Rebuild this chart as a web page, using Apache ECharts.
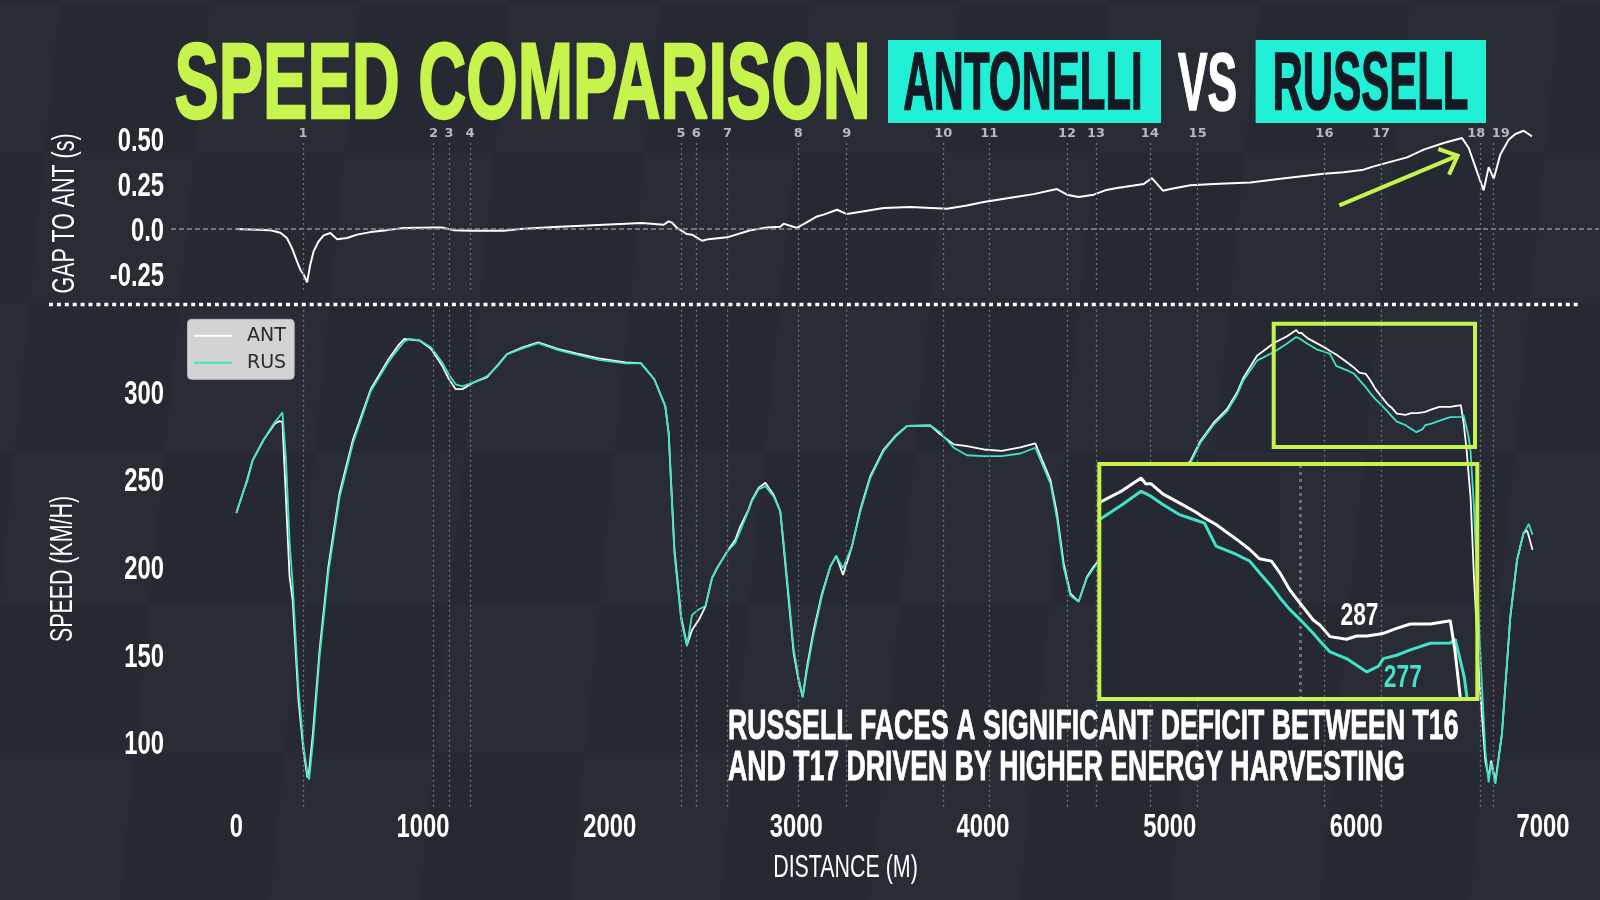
<!DOCTYPE html>
<html>
<head>
<meta charset="utf-8">
<title>Speed comparison</title>
<script src="https://cdn.jsdelivr.net/npm/echarts@6/dist/echarts.min.js"></script>
<style>
  html, body { margin: 0; padding: 0; background: #262832; }
  #chart { width: 1600px; height: 900px; }
</style>
</head>
<body>
<div id="chart"></div>
<script>
// distance along the lap (m) and speed of both drivers (km/h)
const dist = [0, 40, 58, 87, 147, 206, 230, 247, 266, 285, 302, 333, 360, 381, 390, 410, 446, 493, 553, 625,
  720, 816, 870, 900, 930, 984, 1044, 1103, 1139, 1175, 1211, 1271, 1342, 1400, 1450, 1534, 1617, 1725, 1821, 1940,
  2084, 2167, 2239, 2298, 2316, 2347, 2383, 2414, 2441, 2477, 2513, 2548, 2575, 2629, 2673, 2700, 2744, 2763, 2798, 2834,
  2878, 2914, 2932, 2959, 2986, 3012, 3034, 3057, 3093, 3138, 3182, 3214, 3250, 3298, 3343, 3396, 3468, 3530, 3593, 3718,
  3771, 3843, 3914, 4004, 4100, 4200, 4280, 4361, 4396, 4432, 4468, 4512, 4557, 4593, 4700, 4800, 4900, 5000, 5111, 5164,
  5236, 5307, 5361, 5396, 5468, 5561, 5625, 5678, 5692, 5706, 5740, 5787, 5835, 5859, 5892, 5950, 5988, 6016, 6050, 6074,
  6102, 6131, 6169, 6188, 6217, 6264, 6293, 6322, 6355, 6369, 6407, 6446, 6503, 6560, 6574, 6590, 6600, 6612, 6630, 6660,
  6691, 6709, 6722, 6745, 6780, 6825, 6861, 6896, 6915, 6923, 6944];
const antSpeed = [231, 244, 250, 261, 273, 282, 283.5, 283, 238.7, 195, 181, 124, 95, 80, 84, 105, 152.7, 200.5, 242.5, 273,
  301.7, 318.9, 327, 330.4, 330, 329.4, 324.6, 315, 307.4, 301.7, 301.7, 305.6, 308.4, 315.5, 321.8, 325.6, 328.5, 324.6, 322.2, 319.3,
  317, 316.6, 307.4, 292.1, 276.9, 210, 171.8, 155.6, 164.2, 169.9, 177.6, 193.8, 199.5, 209, 215.8, 223.4, 233, 238.7, 245.4, 248.3,
  241.5, 232, 212, 181.4, 150.8, 135.5, 126, 143.2, 164.2, 185.2, 200.5, 206.6, 195.7, 212, 233, 252, 267.3, 275, 280.7, 281,
  276, 270.2, 269.2, 267.3, 266.5, 268.5, 270.8, 250, 231, 202.4, 185.2, 180.4, 194.7, 200.5, 214, 229, 241, 250, 260.6, 272,
  282.6, 290.3, 299.8, 308.4, 320.8, 328.2, 331.7, 335.5, 333.7, 333.8, 330.7, 328, 325.2, 323.5, 321.5, 317.1, 314, 311.2, 310.5, 307,
  301.9, 297.9, 292.8, 291.3, 287.8, 287, 288, 288, 288.5, 288.8, 290.3, 291.6, 291.6, 292.6, 283, 268, 255, 240, 195, 134,
  89.7, 80, 89.7, 78, 105, 171.8, 204.3, 219.6, 221, 218, 210];
const rusSpeed = [231, 244, 249, 261, 273, 283, 286, 288.5, 262, 215, 190, 130, 98, 82, 79, 100, 149, 197, 240, 271,
  300.5, 317.5, 325, 329, 330.4, 329.5, 325.5, 317, 310, 304.5, 303.3, 305.6, 309, 315, 321.5, 325, 328, 324, 321.5, 318.5,
  316.5, 316.6, 307.4, 292.1, 276, 208, 170, 155, 172.8, 176, 178, 193.8, 199.5, 209, 214, 221, 232.5, 238, 244.5, 246.4,
  240.5, 232, 214, 184, 153, 137, 126, 141, 162, 184, 200.5, 206.6, 199.5, 212, 232, 251, 266.5, 274.5, 280.7, 281,
  277, 268.3, 264, 263.5, 263.5, 265, 268.3, 248, 228, 200, 184, 180.4, 194, 199.5, 213, 228, 240, 249, 259.5, 271,
  281.5, 289, 298.5, 307, 318, 323.1, 327.5, 331.5, 330.8, 330, 327.5, 324.5, 322.8, 321.9, 315, 312.5, 310.5, 307, 302.9, 299.5,
  296, 293, 288.8, 286.5, 283.2, 281.2, 279.2, 277.2, 278.9, 281.2, 282.2, 283.8, 285.8, 285.9, 287, 280, 275.5, 266, 235, 160,
  95, 77.3, 88, 76.4, 105, 171.8, 204.3, 219.6, 223, 224.9, 218.6];

// time gap of RUS to ANT (s)
const gapDist = [0, 182, 236, 271, 298, 325, 343, 361, 379, 396, 414, 441, 468, 504, 539, 593, 647, 718, 807, 896,
  1057, 1102, 1164, 1254, 1432, 1521, 1700, 1879, 2057, 2173, 2289, 2316, 2334, 2361, 2414, 2441, 2495, 2530, 2629, 2754,
  2843, 2914, 2932, 3004, 3039, 3111, 3146, 3218, 3271, 3379, 3468, 3611, 3807, 3914, 4004, 4182, 4271, 4396, 4450, 4512,
  4593, 4655, 4718, 4861, 4905, 4964, 5004, 5111, 5236, 5432, 5593, 5825, 5932, 6039, 6093, 6272, 6361, 6468, 6566, 6602,
  6646, 6682, 6709, 6736, 6771, 6816, 6852, 6896, 6941];
const gapToAnt = [0, -0.007, -0.02, -0.05, -0.106, -0.18, -0.226, -0.254, -0.296, -0.198, -0.124, -0.068, -0.035, -0.022, -0.056, -0.05, -0.031, -0.017, -0.006, 0.006,
  0.009, 0.009, -0.006, -0.009, -0.009, 0, 0.011, 0.02, 0.028, 0.033, 0.024, 0.043, 0.036, 0.006, -0.028, -0.031, -0.065, -0.056, -0.046, -0.007,
  0.009, 0.013, 0.03, 0.006, 0.028, 0.07, 0.08, 0.107, 0.083, 0.102, 0.117, 0.122, 0.113, 0.131, 0.15, 0.18, 0.194, 0.222, 0.191, 0.178,
  0.191, 0.215, 0.228, 0.25, 0.283, 0.213, 0.222, 0.243, 0.25, 0.259, 0.28, 0.307, 0.315, 0.33, 0.348, 0.398, 0.441, 0.478, 0.506, 0.45,
  0.32, 0.215, 0.344, 0.28, 0.413, 0.496, 0.528, 0.546, 0.515];

// corners
const turnDist = [357, 1057, 1139, 1252, 2382, 2464, 2632, 3010, 3270, 3787, 4034, 4450, 4605, 4894, 5150, 5829, 6132, 6664, 6736];
const turnNames = ['1', '2', '3', '4', '5', '6', '7', '8', '9', '10', '11', '12', '13', '14', '15', '16', '17', '18', '19'];

// tick labels
const distTicks = [0, 1000, 2000, 3000, 4000, 5000, 6000, 7000];
const speedTicks = [100, 150, 200, 250, 300];
const gapTicks = [-0.25, 0, 0.25, 0.5];

// axis extents
const distRange = [-350, 7300];
const speedRange = [63.4, 349.2];
const gapRange = [-0.338, 0.588];

// zoomed window (T16 - T17) and where the min speed labels are taken
const zoomDist = [5559, 6637];
const zoomSpeed = [269.05, 339.7];
const labelZone = [6150, 6560];

const LIME = '#c6f34c';
const CYAN = '#22f0d6';
const TEAL = '#3fe3c8';
const BG = '#262832';
const FONT = '"Liberation Sans", Arial, sans-serif';

const chart = echarts.init(document.getElementById('chart'));

const antData = dist.map((d, i) => [d, antSpeed[i]]);
const rusData = dist.map((d, i) => [d, rusSpeed[i]]);
const gapData = gapDist.map((d, i) => [d, gapToAnt[i]]);

function zoneMin(values) {
  let best = null;
  dist.forEach((d, i) => {
    if (d >= labelZone[0] && d <= labelZone[1] && (best === null || values[i] < best[1])) best = [d, values[i]];
  });
  return best;
}
const antMin = zoneMin(antSpeed);
const rusMin = zoneMin(rusSpeed);

// small nudges so that 18 and 19 don't collide
const turnLabelNudge = { '18': [-4, 0], '19': [7, 0] };

// condensed look: the font is squeezed horizontally, y is the cap centre
function squeezed(text, x, y, size, weight, fill, scaleX, align, rotation, heavy) {
  const shift = size * 0.065;
  const rot = rotation || 0;
  const style = {
    text: text,
    font: weight + ' ' + size + 'px ' + FONT,
    fill: fill,
    align: align,
    verticalAlign: 'middle',
    textAlign: align,
    textVerticalAlign: 'middle'
  };
  if (heavy) {
    style.stroke = fill;
    style.lineWidth = heavy;
  }
  return {
    type: 'text',
    x: x + (rot ? shift : 0),
    y: y + (rot ? 0 : shift),
    rotation: rot,
    scaleX: scaleX,
    z: 100,
    silent: true,
    style: style
  };
}

// tick labels drawn through the axis scale, so they can use the squeezed font
function tickSeries(name, xi, yi, values, isX, fmt) {
  return {
    name: name,
    type: 'custom',
    xAxisIndex: xi,
    yAxisIndex: yi,
    clip: false,
    silent: true,
    z: 10,
    data: values.map(v => (isX ? [v, speedRange[0]] : [distRange[0], v])),
    renderItem: (params, api) => {
      const v = isX ? api.value(0) : api.value(1);
      const p = api.coord([api.value(0), api.value(1)]);
      return squeezed(fmt(v), isX ? p[0] : p[0] - 7, isX ? p[1] + 19 : p[1], 34, 'bold', '#ffffff', 0.7,
        isX ? 'center' : 'right');
    }
  };
}

// faint chequered backdrop
const backdrop = [];
for (let r = 0; r < 7; r++) {
  for (let c = -1; c < 12; c++) {
    if ((r + c) % 2 !== 0) continue;
    const y0 = 3 + (r - 1) * 150;
    const y1 = y0 + 150;
    const x0 = c * 150 + 60;
    const s = y => -0.1 * y;
    backdrop.push({
      type: 'polygon', z: -10, silent: true,
      shape: { points: [[x0 + s(y0), y0], [x0 + 150 + s(y0), y0], [x0 + 150 + s(y1), y1], [x0 + s(y1), y1]] },
      style: { fill: 'rgba(255,255,255,0.014)' }
    });
  }
}

const hidden = { show: false };

const option = {
  backgroundColor: BG,
  animation: false,
  grid: [
    { left: 171, top: 123.2, width: 1428, height: 166.7 },
    { left: 171, top: 306, width: 1428, height: 500.7 },
    { left: 1099.3, top: 464, width: 378, height: 235 }
  ],
  legend: {
    data: ['ANT', 'RUS'],
    left: 187.5,
    top: 319.3,
    orient: 'vertical',
    icon: 'rect',
    itemWidth: 38,
    itemHeight: 2,
    itemGap: 6,
    padding: [6, 8, 6, 6.5],
    backgroundColor: '#d3d3d5',
    borderColor: '#b8b8bb',
    borderWidth: 1,
    borderRadius: 4,
    selectedMode: false,
    textStyle: { color: '#2b2b2b', fontSize: 19, fontFamily: 'DejaVu Sans', lineHeight: 21, padding: [0, 0, 0, 10] }
  },
  xAxis: [
    { gridIndex: 0, type: 'value', min: distRange[0], max: distRange[1], show: false },
    {
      gridIndex: 1, type: 'value', min: distRange[0], max: distRange[1],
      axisLine: hidden, axisTick: hidden, splitLine: hidden, axisLabel: hidden
    },
    { gridIndex: 2, type: 'value', min: zoomDist[0], max: zoomDist[1], show: false }
  ],
  yAxis: [
    {
      gridIndex: 0, type: 'value', min: gapRange[0], max: gapRange[1],
      axisLine: hidden, axisTick: hidden, splitLine: hidden, axisLabel: hidden
    },
    {
      gridIndex: 1, type: 'value', min: speedRange[0], max: speedRange[1],
      axisLine: hidden, axisTick: hidden, splitLine: hidden, axisLabel: hidden
    },
    { gridIndex: 2, type: 'value', min: zoomSpeed[0], max: zoomSpeed[1], show: false }
  ],
  series: [
    {
      name: 'GAP',
      type: 'line',
      xAxisIndex: 0, yAxisIndex: 0,
      data: gapData,
      symbol: 'none',
      lineStyle: { color: '#ffffff', width: 2 },
      z: 4,
      markLine: {
        silent: true,
        symbol: ['none', 'none'],
        lineStyle: { color: '#70727d', width: 1.3, type: [2, 3] },
        label: {
          show: true, position: 'end', distance: 3,
          color: '#b7b7bf', fontSize: 13, fontWeight: 'bold', fontFamily: 'DejaVu Sans',
          formatter: p => p.name
        },
        data: [
          [
            { coord: [distRange[0], 0], label: { show: false }, lineStyle: { color: '#8d8f98', width: 1.5, type: [5, 3] } },
            { coord: [distRange[1], 0] }
          ]
        ].concat(turnDist.map((d, i) => [
          { coord: [d, gapRange[0]], name: turnNames[i], label: { offset: turnLabelNudge[turnNames[i]] || [0, 0] } },
          { coord: [d, 0.48], name: turnNames[i] }
        ]))
      }
    },
    {
      name: 'ANT',
      type: 'line',
      xAxisIndex: 1, yAxisIndex: 1,
      data: antData,
      symbol: 'none',
      color: '#ffffff',
      lineStyle: { color: '#ffffff', width: 1.8 },
      z: 3,
      markLine: {
        silent: true,
        symbol: ['none', 'none'],
        label: { show: false },
        lineStyle: { color: '#70727d', width: 1.3, type: [2, 3] },
        data: turnDist.map(d => ({ xAxis: d }))
      }
    },
    {
      name: 'RUS',
      type: 'line',
      xAxisIndex: 1, yAxisIndex: 1,
      data: rusData,
      symbol: 'none',
      color: TEAL,
      lineStyle: { color: TEAL, width: 1.8 },
      z: 4
    },
    {
      name: 'ANT zoom',
      type: 'line',
      xAxisIndex: 2, yAxisIndex: 2,
      data: antData,
      symbol: 'none',
      lineStyle: { color: '#ffffff', width: 3 },
      z: 62,
      markLine: {
        silent: true,
        symbol: ['none', 'none'],
        label: { show: false },
        lineStyle: { color: '#6b6d77', width: 3, type: [3, 4] },
        data: turnDist.filter(d => d > zoomDist[0] && d < zoomDist[1]).map(d => ({ xAxis: d }))
      }
    },
    {
      name: 'RUS zoom',
      type: 'line',
      xAxisIndex: 2, yAxisIndex: 2,
      data: rusData,
      symbol: 'none',
      lineStyle: { color: TEAL, width: 3 },
      z: 61
    },
    {
      name: 'zoom min labels',
      type: 'custom',
      xAxisIndex: 2, yAxisIndex: 2,
      clip: false,
      silent: true,
      z: 80,
      data: [[antMin[0], antMin[1], 0], [rusMin[0], rusMin[1], 1]],
      renderItem: (params, api) => {
        const p = api.coord([api.value(0), api.value(1)]);
        const isAnt = api.value(2) === 0;
        const off = isAnt ? [13, -25] : [36, 5];
        return squeezed(String(Math.round(api.value(1))), p[0] + off[0], p[1] + off[1], 31, 'bold',
          isAnt ? '#ffffff' : TEAL, 0.735, 'center');
      }
    },
    tickSeries('dist ticks', 1, 1, distTicks, true, v => String(v)),
    tickSeries('speed ticks', 1, 1, speedTicks, false, v => String(v)),
    tickSeries('gap ticks', 0, 0, gapTicks, false, v => (v === 0 ? '0.0' : v.toFixed(2)))
  ],
  graphic: backdrop.concat([
    // dotted separator between the two panels
    {
      type: 'line', z: 5, silent: true,
      shape: { x1: 49, y1: 304.5, x2: 1579, y2: 304.5 },
      style: { stroke: '#ffffff', lineWidth: 3.5, lineDash: [4, 3.9] }
    },
    // title
    squeezed('SPEED COMPARISON', 174.5, 81.5, 108, 'bold', LIME, 0.615, 'left', 0, 2.5),
    { type: 'rect', z: 90, silent: true, shape: { x: 888, y: 40, width: 273, height: 83 }, style: { fill: CYAN } },
    squeezed('ANTONELLI', 1023, 81.2, 82, 'bold', '#141923', 0.512, 'center', 0, 1.5),
    squeezed('VS', 1207.6, 81.7, 82, 'bold', '#ffffff', 0.54, 'center', 0, 1.5),
    { type: 'rect', z: 90, silent: true, shape: { x: 1255.6, y: 40, width: 230.4, height: 83 }, style: { fill: CYAN } },
    squeezed('RUSSELL', 1370.5, 81.2, 82, 'bold', '#141923', 0.512, 'center', 0, 1.5),
    // axis titles
    squeezed('GAP TO ANT (s)', 63, 213.5, 31, 'normal', '#ffffff', 0.69, 'center', Math.PI / 2),
    squeezed('SPEED (KM/H)', 61, 569, 31, 'normal', '#ffffff', 0.69, 'center', Math.PI / 2),
    squeezed('DISTANCE (M)', 845.5, 866, 31, 'normal', '#ffffff', 0.69, 'center'),
    // arrow
    {
      type: 'polyline', z: 20, silent: true,
      shape: { points: [[1339.3, 205.3], [1457.7, 155.7]] },
      style: { stroke: LIME, lineWidth: 4, fill: null }
    },
    {
      type: 'polyline', z: 20, silent: true,
      shape: { points: [[1438.3, 149], [1457.7, 155.7], [1449, 174.7]] },
      style: { stroke: LIME, lineWidth: 4, fill: null, lineJoin: 'miter' }
    },
    // zoom window on the main chart
    {
      type: 'rect', z: 20, silent: true,
      shape: { x: 1273.7, y: 323.7, width: 201.3, height: 123.3 },
      style: { fill: null, stroke: LIME, lineWidth: 4 }
    },
    // inset panel
    {
      type: 'rect', z: 50, silent: true,
      shape: { x: 1097.3, y: 462, width: 182, height: 239 },
      style: { fill: BG }
    },
    {
      type: 'rect', z: 70, silent: true,
      shape: { x: 1099.3, y: 464, width: 378, height: 235 },
      style: { fill: null, stroke: LIME, lineWidth: 4 }
    },
    // annotation
    squeezed('RUSSELL FACES A SIGNIFICANT DEFICIT BETWEEN T16', 728, 725, 42, 'bold', '#ffffff', 0.635, 'left', 0, 0.8),
    squeezed('AND T17 DRIVEN BY HIGHER ENERGY HARVESTING', 728, 766, 42, 'bold', '#ffffff', 0.635, 'left', 0, 0.8)
  ])
};

chart.setOption(option);
window.addEventListener('resize', () => chart.resize());
</script>
</body>
</html>
